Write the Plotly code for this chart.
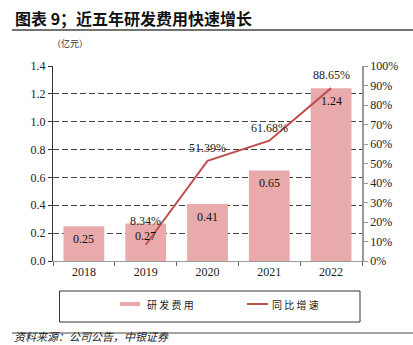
import plotly.graph_objects as go

# R&D expense (100 million CNY) and year-over-year growth (%)
years = ["2018", "2019", "2020", "2021", "2022"]
rd_expense = [0.25, 0.27, 0.41, 0.65, 1.24]
growth_years = ["2019", "2020", "2021", "2022"]
growth_pct = [8.34, 51.39, 61.68, 88.65]
left_ticks = [0.0, 0.2, 0.4, 0.6, 0.8, 1.0, 1.2, 1.4]
right_ticks = [0, 10, 20, 30, 40, 50, 60, 70, 80, 90, 100]

W, H = 413, 345
ML, MR, MT, MB = 53, 51, 66, 84
PW, PH = W - ML - MR, H - MT - MB

BAR_COLOR = "#e8aaaa"
LINE_COLOR = "#c0504d"
SERIF = "Liberation Serif, Times New Roman, serif"
CJK = "Noto Sans CJK SC, sans-serif"


def px(x):
    return (x - ML) / PW


def py(y):
    return (H - MB - y) / PH


fig = go.Figure()

fig.add_bar(
    x=years, y=rd_expense, name="研发费用",
    marker=dict(color=BAR_COLOR, line=dict(width=0)),
    width=0.66,
    showlegend=False,
)

fig.add_scatter(
    x=growth_years, y=growth_pct, yaxis="y2", name="同比增速",
    mode="lines", line=dict(color=LINE_COLOR, width=2),
    showlegend=False,
)

annotations = []
# value labels just inside the top of each bar
for yr, v in zip(years, rd_expense):
    annotations.append(dict(
        x=years.index(yr), y=v, xref="x", yref="y", text=f"{v:.2f}", showarrow=False,
        yanchor="middle", yshift=-13,
        font=dict(family=SERIF, size=12, color="#111"),
    ))
# growth labels above each point; the first one is lifted clear of the bar label
for i, (yr, g) in enumerate(zip(growth_years, growth_pct)):
    annotations.append(dict(
        x=years.index(yr), y=g, xref="x", yref="y2", text=f"{g:.2f}%", showarrow=False,
        yanchor="middle", yshift=24 if i == 0 else 13,
        font=dict(family=SERIF, size=12, color="#222"),
    ))

# title, unit, legend text and source
annotations += [
    dict(x=px(13), y=py(18), xref="paper", yref="paper", xanchor="left", yanchor="middle",
         text="<b>图表 9；近五年研发费用快速增长</b>", showarrow=False,
         font=dict(family=CJK, size=16, color="#111")),
    dict(x=px(70), y=py(44), xref="paper", yref="paper", xanchor="center", yanchor="middle",
         text="（亿元）", showarrow=False, font=dict(family=CJK, size=9, color="#333")),
    dict(x=px(13), y=py(345), xref="paper", yref="paper", xanchor="left", yanchor="bottom",
         text="<i>资料来源：公司公告，中银证券</i>", showarrow=False, borderpad=0,
         font=dict(family=CJK, size=11, color="#222")),
    dict(x=px(145), y=py(304), xref="paper", yref="paper", xanchor="left", yanchor="middle",
         text="研 发 费 用", showarrow=False, font=dict(family=CJK, size=10, color="#222")),
    dict(x=px(270), y=py(304), xref="paper", yref="paper", xanchor="left", yanchor="middle",
         text="同 比 增 速", showarrow=False, font=dict(family=CJK, size=10, color="#222")),
]

shapes = [
    # rule under the title and above the source
    dict(type="line", xref="paper", yref="paper", x0=px(12), x1=px(413), y0=py(30), y1=py(30),
         line=dict(color="#444", width=1.5)),
    dict(type="line", xref="paper", yref="paper", x0=px(12), x1=px(413), y0=py(333), y1=py(333),
         line=dict(color="#444", width=1)),
    # legend frame and keys
    dict(type="rect", xref="paper", yref="paper", x0=px(59.5), x1=px(360), y0=py(291), y1=py(322),
         line=dict(color="#333", width=1)),
    dict(type="line", xref="paper", yref="paper", x0=px(120), x1=px(140), y0=py(304), y1=py(304),
         line=dict(color=BAR_COLOR, width=4)),
    dict(type="line", xref="paper", yref="paper", x0=px(247), x1=px(268), y0=py(304), y1=py(304),
         line=dict(color=LINE_COLOR, width=2)),
]

fig.update_layout(
    width=W, height=H,
    margin=dict(l=ML, r=MR, t=MT, b=MB),
    paper_bgcolor="white", plot_bgcolor="white",
    xaxis=dict(
        type="category", range=[-0.5, len(years) - 0.5],
        showline=True, linecolor="#999", linewidth=1,
        ticks="outside", tickson="boundaries", ticklen=4, tickcolor="#666",
        showgrid=False, tickfont=dict(family=SERIF, size=12, color="#222"),
    ),
    yaxis=dict(
        range=[0, 1.4], tickvals=left_ticks, tickformat=".1f",
        showline=True, linecolor="#333", linewidth=1,
        ticks="outside", ticklen=4, tickcolor="#333",
        showgrid=True, gridcolor="#444", gridwidth=1, griddash="6px,3px",
        zeroline=False, tickfont=dict(family=SERIF, size=12, color="#222"),
    ),
    yaxis2=dict(
        range=[0, 100], tickvals=right_ticks, ticktext=[f"{v}%" for v in right_ticks],
        overlaying="y", side="right",
        showline=True, linecolor="#999", linewidth=1.5,
        ticks="outside", ticklen=4, tickcolor="#999",
        showgrid=False, zeroline=False, tickfont=dict(family=SERIF, size=12, color="#222"),
    ),
    annotations=annotations,
    shapes=shapes,
    showlegend=False,
)

fig.write_html("out.html")
